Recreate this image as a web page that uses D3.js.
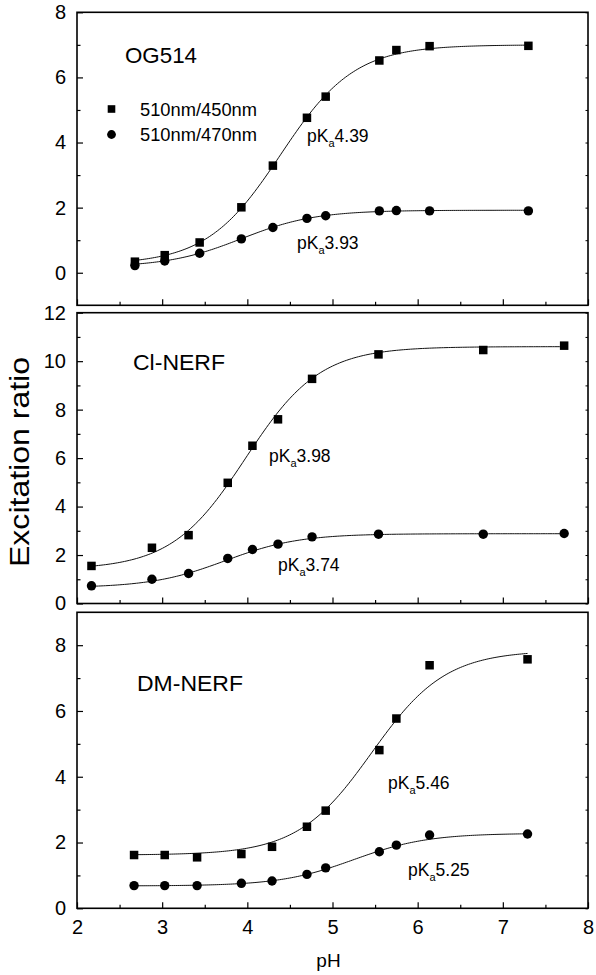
<!DOCTYPE html>
<html>
<head>
<meta charset="utf-8">
<script src="https://cdn.jsdelivr.net/npm/d3@7"></script>
<style>
  html, body { margin: 0; padding: 0; background: #fff; }
  svg { display: block; }
  text { font-family: "Liberation Sans", Arial, Helvetica, sans-serif; fill: #000; }
</style>
</head>
<body>
<svg id="chart" width="596" height="975"></svg>
<script>
// ---------------- DATA ----------------
const panelNames = ["OG514", "Cl-NERF", "DM-NERF"];
const seriesNames = ["510nm/450nm", "510nm/470nm"];
const xTickLabels = [2, 3, 4, 5, 6, 7, 8];

// OG514
const og514_pH = [2.68, 3.03, 3.44, 3.93, 4.30, 4.70, 4.92, 5.55, 5.75, 6.14, 7.30];
const og514_r450 = [0.34, 0.54, 0.93, 2.01, 3.29, 4.76, 5.41, 6.52, 6.84, 6.96, 6.97];
const og514_r470 = [0.22, 0.36, 0.60, 1.04, 1.39, 1.67, 1.75, 1.90, 1.91, 1.90, 1.90];

// Cl-NERF
const clnerf_pH = [2.17, 2.88, 3.31, 3.77, 4.06, 4.36, 4.76, 5.54, 6.77, 7.72];
const clnerf_r450 = [1.55, 2.30, 2.82, 4.98, 6.51, 7.60, 9.27, 10.28, 10.46, 10.64];
const clnerf_r470 = [0.73, 1.00, 1.24, 1.86, 2.23, 2.45, 2.75, 2.86, 2.86, 2.89];

// DM-NERF
const dmnerf_pH = [2.67, 3.03, 3.41, 3.93, 4.29, 4.70, 4.92, 5.55, 5.75, 6.14, 7.29];
const dmnerf_r450 = [1.62, 1.62, 1.55, 1.65, 1.87, 2.48, 2.97, 4.81, 5.77, 7.39, 7.57];
const dmnerf_r470 = [0.69, 0.69, 0.69, 0.76, 0.83, 1.03, 1.23, 1.72, 1.92, 2.23, 2.26];

// Fitted pKa values (shown as labels) and fit plateaus [450, 470]
const pKa450 = [4.39, 3.98, 5.46];
const pKa470 = [3.93, 3.74, 5.25];
const rMin450 = [0.25, 1.40, 1.62];
const rMax450 = [7.00, 10.60, 7.84];
const rMin470 = [0.17, 0.65, 0.68];
const rMax470 = [1.92, 2.88, 2.28];

// Y tick labels per panel
const yTickLabels = [[0, 2, 4, 6, 8], [0, 2, 4, 6, 8, 10, 12], [0, 2, 4, 6, 8]];
const yMinorTicks = [[1, 3, 5, 7], [1, 3, 5, 7, 9, 11], [1, 3, 5, 7]];
const yDomains = [[-1, 8], [0, 12], [0, 9]];

// ---------------- LAYOUT ----------------
const svg = d3.select("#chart");
const left = 77, right = 588;
const panelTops = [12.3, 312.7, 612.3];
const panelBottoms = [305.3, 603.5, 908.3];

const x = d3.scaleLinear().domain([2, 8]).range([left, right]);

const pHs = [og514_pH, clnerf_pH, dmnerf_pH];
const r450s = [og514_r450, clnerf_r450, dmnerf_r450];
const r470s = [og514_r470, clnerf_r470, dmnerf_r470];

// Panel label positions and pKa label positions (pixel layout)
const panelLabelPos = [[125, 63, 72], [133, 370, 92], [137, 690.5, 106]];
const pka450Pos = [[307, 142], [269, 462], [388, 789]];
const pka470Pos = [[297, 249], [278, 571], [408, 876]];

const hh = (pH, pKa, lo, hi) => lo + (hi - lo) / (1 + Math.pow(10, pKa - pH));

for (let i = 0; i < 3; i++) {
  const y = d3.scaleLinear().domain(yDomains[i]).range([panelBottoms[i], panelTops[i]]);
  const g = svg.append("g");

  // left axis major
  const la = g.append("g").attr("transform", `translate(${left},0)`)
    .call(d3.axisLeft(y).tickValues(yTickLabels[i]).tickSize(-6).tickPadding(11).tickFormat(d3.format("d")));
  la.select(".domain").remove();
  la.selectAll("text").style("font-size", "20px").style("font-family", "'Liberation Sans', Arial, sans-serif");
  la.selectAll("line").attr("stroke", "#000").attr("stroke-width", 1.2);
  // left axis minor
  const lm = g.append("g").attr("transform", `translate(${left},0)`)
    .call(d3.axisLeft(y).tickValues(yMinorTicks[i]).tickSize(-3.5).tickFormat(""));
  lm.select(".domain").remove();
  lm.selectAll("line").attr("stroke", "#000").attr("stroke-width", 1.2);
  // right axis small ticks
  const ra = g.append("g").attr("transform", `translate(${right},0)`)
    .call(d3.axisRight(y).tickValues(yTickLabels[i].concat(yMinorTicks[i])).tickSize(-2.5).tickFormat(""));
  ra.select(".domain").remove();
  ra.selectAll("line").attr("stroke", "#000").attr("stroke-width", 1);

  // bottom axis
  const ba = g.append("g").attr("transform", `translate(0,${panelBottoms[i]})`)
    .call(d3.axisBottom(x).tickValues(xTickLabels).tickSize(-6).tickPadding(12)
      .tickFormat(i === 2 ? d3.format("d") : ""));
  ba.select(".domain").remove();
  ba.selectAll("text").style("font-size", "20px").style("font-family", "'Liberation Sans', Arial, sans-serif");
  ba.selectAll("line").attr("stroke", "#000").attr("stroke-width", 1.2);
  const bm = g.append("g").attr("transform", `translate(0,${panelBottoms[i]})`)
    .call(d3.axisBottom(x).tickValues([2.5, 3.5, 4.5, 5.5, 6.5, 7.5]).tickSize(-3.5).tickFormat(""));
  bm.select(".domain").remove();
  bm.selectAll("line").attr("stroke", "#000").attr("stroke-width", 1.2);

  // frame
  g.append("rect")
    .attr("x", left).attr("y", panelTops[i])
    .attr("width", right - left).attr("height", panelBottoms[i] - panelTops[i])
    .attr("fill", "none").attr("stroke", "#000").attr("stroke-width", 1.6);

  // fitted curves
  const pH = pHs[i];
  const lo = d3.min(pH), hi = d3.max(pH);
  const samples = d3.range(0, 201).map(k => lo + (hi - lo) * k / 200);
  const line = d3.line().x(d => x(d[0])).y(d => y(d[1]));
  g.append("path")
    .datum(samples.map(p => [p, hh(p, pKa450[i], rMin450[i], rMax450[i])]))
    .attr("d", line).attr("fill", "none").attr("stroke", "#111").attr("stroke-width", 1);
  g.append("path")
    .datum(samples.map(p => [p, hh(p, pKa470[i], rMin470[i], rMax470[i])]))
    .attr("d", line).attr("fill", "none").attr("stroke", "#111").attr("stroke-width", 1);

  // markers
  const sq = 8.5;
  g.selectAll("rect.sq").data(pH.map((p, k) => [p, r450s[i][k]])).join("rect")
    .attr("class", "sq")
    .attr("x", d => x(d[0]) - sq / 2).attr("y", d => y(d[1]) - sq / 2)
    .attr("width", sq).attr("height", sq).attr("fill", "#000");
  g.selectAll("circle.ci").data(pH.map((p, k) => [p, r470s[i][k]])).join("circle")
    .attr("class", "ci")
    .attr("cx", d => x(d[0])).attr("cy", d => y(d[1]))
    .attr("r", 4.7).attr("fill", "#000");

  // panel label
  const pl = panelLabelPos[i];
  g.append("text").attr("x", pl[0]).attr("y", pl[1])
    .attr("textLength", pl[2]).attr("lengthAdjust", "spacingAndGlyphs")
    .style("font-size", "22.5px").text(panelNames[i]);

  // pKa labels
  [[pka450Pos[i], pKa450[i]], [pka470Pos[i], pKa470[i]]].forEach(([pos, v]) => {
    const t = g.append("text").attr("x", pos[0]).attr("y", pos[1]).style("font-size", "17.5px");
    t.append("tspan").text("pK");
    t.append("tspan").attr("dy", 5).style("font-size", "11px").text("a");
    t.append("tspan").attr("dy", -5).text(v.toFixed(2));
  });
}

// legend (in first panel)
svg.append("rect").attr("x", 111.5 - 3.8).attr("y", 109 - 3.8).attr("width", 7.6).attr("height", 7.6).attr("fill", "#000");
svg.append("circle").attr("cx", 111.5).attr("cy", 134.5).attr("r", 4.4).attr("fill", "#000");
svg.append("text").attr("x", 140).attr("y", 115.5).attr("textLength", 117).attr("lengthAdjust", "spacingAndGlyphs")
  .style("font-size", "18px").text(seriesNames[0]);
svg.append("text").attr("x", 140).attr("y", 140.5).attr("textLength", 117).attr("lengthAdjust", "spacingAndGlyphs")
  .style("font-size", "18px").text(seriesNames[1]);

// axis titles
svg.append("text")
  .attr("transform", "translate(29,462) rotate(-90)")
  .attr("text-anchor", "middle")
  .attr("textLength", 210).attr("lengthAdjust", "spacingAndGlyphs")
  .style("font-size", "28px").text("Excitation ratio");
svg.append("text")
  .attr("x", (left + right) / 2 - 4).attr("y", 967)
  .attr("text-anchor", "middle")
  .style("font-size", "19px").text("pH");
</script>
</body>
</html>
